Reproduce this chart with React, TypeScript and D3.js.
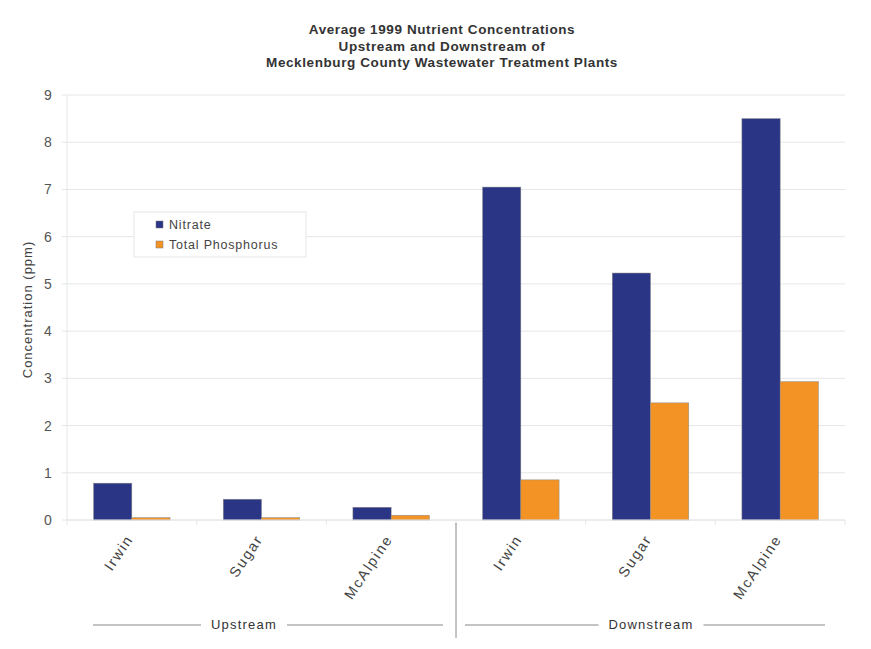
import { useEffect, useRef } from "react";
import * as d3 from "d3";

const sites = ["Irwin", "Sugar", "McAlpine", "Irwin", "Sugar", "McAlpine"];
const positions = ["Upstream", "Downstream"];
const nitrate = [0.78, 0.44, 0.27, 7.05, 5.23, 8.5];
const phosphorus = [0.05, 0.05, 0.1, 0.85, 2.48, 2.93];
const seriesNames = ["Nitrate", "Total Phosphorus"];
const seriesColors = ["#2b3585", "#f39325"];
const yTicks = [0, 1, 2, 3, 4, 5, 6, 7, 8, 9];
const titleLines = [
  "Average 1999 Nutrient Concentrations",
  "Upstream and Downstream of",
  "Mecklenburg County Wastewater Treatment Plants",
];

const App = () => {
  const ref = useRef<SVGSVGElement>(null);

  useEffect(() => {
    const w = 871;
    const h = 649;
    const m = { left: 67, right: 26, top: 95, bottom: 129 };
    const svg = d3.select(ref.current);
    svg.selectAll("*").remove();
    svg.attr("width", w).attr("height", h).style("background", "#fff");

    const font = "Liberation Sans, Arial, sans-serif";

    const x = d3
      .scaleBand<number>()
      .domain(sites.map((_, i) => i))
      .range([m.left, w - m.right])
      .paddingInner(0.41)
      .paddingOuter(0.205);
    const y = d3.scaleLinear().domain([0, 9]).range([h - m.bottom, m.top]);
    const groupW = (w - m.right - m.left) / sites.length;

    // gridlines
    svg
      .append("g")
      .selectAll("line")
      .data(yTicks)
      .join("line")
      .attr("x1", m.left - 5)
      .attr("x2", w - m.right)
      .attr("y1", (d) => y(d))
      .attr("y2", (d) => y(d))
      .attr("stroke", "#e4e6e8")
      .attr("stroke-width", 1);

    // y axis line
    svg
      .append("line")
      .attr("x1", m.left)
      .attr("x2", m.left)
      .attr("y1", y(9))
      .attr("y2", y(0))
      .attr("stroke", "#e4e6e8");

    // y labels
    svg
      .append("g")
      .selectAll("text")
      .data(yTicks)
      .join("text")
      .attr("x", 48)
      .attr("y", (d) => y(d) + 5)
      .attr("text-anchor", "middle")
      .attr("font-family", font)
      .attr("font-size", 14)
      .attr("fill", "#555")
      .text((d) => d);

    svg
      .append("text")
      .attr("transform", `translate(32,${(y(0) + y(9)) / 2 + 2}) rotate(-90)`)
      .attr("text-anchor", "middle")
      .attr("font-family", font)
      .attr("font-size", 13)
      .attr("letter-spacing", 1)
      .attr("fill", "#444")
      .text("Concentration (ppm)");

    // title
    svg
      .append("g")
      .selectAll("text")
      .data(titleLines)
      .join("text")
      .attr("x", 442)
      .attr("y", (_, i) => 34 + i * 16.5)
      .attr("text-anchor", "middle")
      .attr("font-family", font)
      .attr("font-size", 13.5)
      .attr("letter-spacing", 0.6)
      .attr("font-weight", "bold")
      .attr("fill", "#333")
      .text((d) => d);

    // bars
    const bw = x.bandwidth() / 2;
    [nitrate, phosphorus].forEach((vals, s) => {
      svg
        .append("g")
        .selectAll("rect")
        .data(vals)
        .join("rect")
        .attr("x", (_, i) => (x(i) ?? 0) + s * bw)
        .attr("y", (d) => y(d))
        .attr("width", bw)
        .attr("height", (d) => y(0) - y(d))
        .attr("fill", seriesColors[s])
        .attr("stroke", "#8a8a8a")
        .attr("stroke-width", 0.5);
    });

    // x axis line and tick marks
    svg
      .append("line")
      .attr("x1", m.left)
      .attr("x2", w - m.right)
      .attr("y1", y(0))
      .attr("y2", y(0))
      .attr("stroke", "#e4e6e8");
    svg
      .append("g")
      .selectAll("line")
      .data(d3.range(sites.length + 1))
      .join("line")
      .attr("x1", (i) => m.left + i * groupW)
      .attr("x2", (i) => m.left + i * groupW)
      .attr("y1", y(0))
      .attr("y2", y(0) + 5)
      .attr("stroke", "#e4e6e8");

    // category labels
    svg
      .append("g")
      .selectAll("text")
      .data(sites)
      .join("text")
      .attr("transform", (_, i) => {
        const cx = (x(i) ?? 0) + x.bandwidth() / 2 + 2;
        return `translate(${cx},${y(0) + 19}) rotate(-56)`;
      })
      .attr("text-anchor", "end")
      .attr("font-family", font)
      .attr("font-size", 14.5)
      .attr("letter-spacing", 1.8)
      .attr("fill", "#444")
      .text((d) => d);

    // group labels
    const midX = m.left + 3 * groupW;
    svg
      .append("line")
      .attr("x1", midX)
      .attr("x2", midX)
      .attr("y1", y(0) + 3)
      .attr("y2", 638)
      .attr("stroke", "#888");
    positions.forEach((p, gi) => {
      const x0 = gi === 0 ? m.left + 26 : midX + 9;
      const x1 = gi === 0 ? midX - 13 : w - m.right - 20;
      const gy = 625;
      const t = svg
        .append("text")
        .attr("y", gy + 4)
        .attr("text-anchor", "middle")
        .attr("font-family", font)
        .attr("font-size", 13)
        .attr("letter-spacing", 1.2)
        .attr("fill", "#333")
        .text(p);
      const tw = (t.node() as SVGTextElement).getComputedTextLength();
      const cx = gi === 0 ? 244 : 651;
      t.attr("x", cx);
      const gap = tw / 2 + 10;
      svg
        .append("line")
        .attr("x1", x0)
        .attr("x2", cx - gap)
        .attr("y1", gy)
        .attr("y2", gy)
        .attr("stroke", "#888");
      svg
        .append("line")
        .attr("x1", cx + gap)
        .attr("x2", x1)
        .attr("y1", gy)
        .attr("y2", gy)
        .attr("stroke", "#888");
    });

    // legend
    const lg = svg.append("g").attr("transform", "translate(134,212)");
    lg.append("rect")
      .attr("width", 172)
      .attr("height", 45)
      .attr("fill", "#fff")
      .attr("stroke", "#e4e6e8");
    seriesNames.forEach((n, i) => {
      lg.append("rect")
        .attr("x", 22)
        .attr("y", 9 + i * 20)
        .attr("width", 7)
        .attr("height", 7)
        .attr("fill", seriesColors[i])
        .attr("stroke", "#777")
        .attr("stroke-width", 0.5);
      lg.append("text")
        .attr("x", 35)
        .attr("y", 17 + i * 20)
        .attr("font-family", font)
        .attr("font-size", 12.5)
        .attr("letter-spacing", 0.8)
        .attr("fill", "#444")
        .text(n);
    });
  }, []);

  return (
    <svg
      ref={ref}
      style={{ position: "absolute", left: 0, top: 0, display: "block" }}
    ></svg>
  );
};

export default App;
